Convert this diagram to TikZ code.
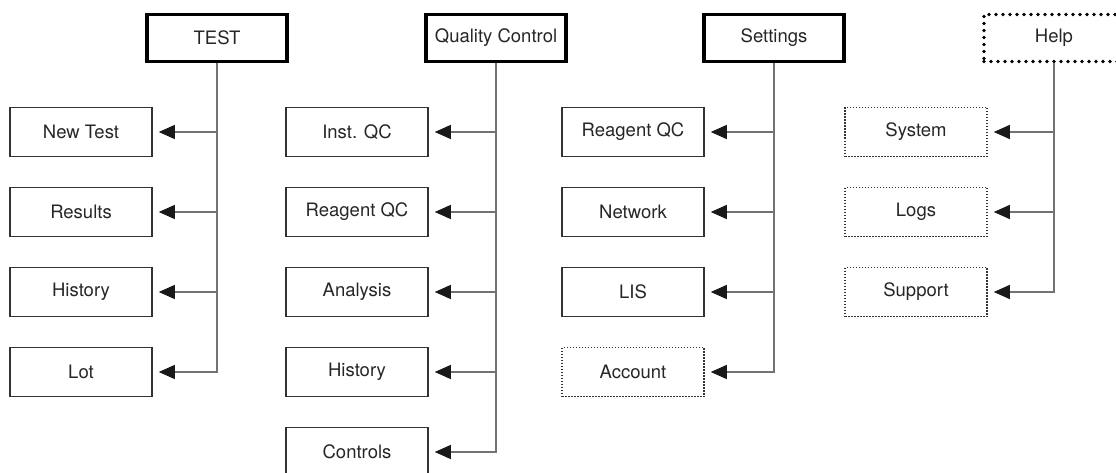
\documentclass[tikz,border=0pt]{standalone}
\usepackage{fontspec}
\setmainfont{TeX Gyre Heros}
\usetikzlibrary{arrows.meta}

\begin{document}
\begin{tikzpicture}[x=1pt, y=-1pt,
	menu/.style={draw=black, line width=3.5pt, minimum width=140pt, minimum height=47pt, inner sep=0pt, text=black!85, font=\fontsize{18.5}{20}\selectfont},
	helpmenu/.style={menu, line width=3.6pt, line cap=round, dash pattern=on 0pt off 7pt},
	item/.style={draw=black!80, line width=1.5pt, minimum width=142pt, minimum height=49pt, inner sep=0pt, text=black!85, font=\fontsize{18.5}{20}\selectfont},
	olditem/.style={item, line width=1.5pt, dash pattern=on 1.5pt off 1.5pt},
	link/.style={draw=black!55, line width=1.2pt, shorten >=6pt, -{Triangle[length=16pt, width=14pt, color=black!90]}}]
	\useasboundingbox (0, 0) rectangle (1116, 473);

	\node[menu] at (217, 38)  (test) {TEST};
	\node[menu] at (496, 38)  (qc) {Quality Control};
	\node[menu] at (774, 38)  (settings) {Settings};
	\node[helpmenu] at (1054, 38)  (help) {Help};

	\node[item] at (81, 132)  (newtest) {New Test};
	\node[item] at (81, 212)  (results) {Results};
	\node[item] at (81, 292)  (history) {History};
	\node[item] at (81, 372)  (lot) {Lot};

	\node[item] at (357, 132)  (instqc) {Inst. QC};
	\node[item] at (357, 212)  (reagentqc) {Reagent QC};
	\node[item] at (357, 292)  (analysis) {Analysis};
	\node[item] at (357, 372)  (qchistory) {History};
	\node[item] at (357, 452)  (controls) {Controls};

	\node[item] at (633, 132)  (setreagent) {Reagent QC};
	\node[item] at (633, 212)  (network) {Network};
	\node[item] at (633, 292)  (lis) {LIS};
	\node[olditem] at (633, 372)  (account) {Account};

	\node[olditem] at (916, 132)  (system) {System};
	\node[olditem] at (916, 212)  (logs) {Logs};
	\node[olditem] at (916, 292)  (support) {Support};

	\draw[link] (test.south) |- (newtest.east);
	\draw[link] (test.south) |- (results.east);
	\draw[link] (test.south) |- (history.east);
	\draw[link] (test.south) |- (lot.east);

	\draw[link] (qc.south) |- (instqc.east);
	\draw[link] (qc.south) |- (reagentqc.east);
	\draw[link] (qc.south) |- (analysis.east);
	\draw[link] (qc.south) |- (qchistory.east);
	\draw[link] (qc.south) |- (controls.east);

	\draw[link] (settings.south) |- (setreagent.east);
	\draw[link] (settings.south) |- (network.east);
	\draw[link] (settings.south) |- (lis.east);
	\draw[link] (settings.south) |- (account.east);

	\draw[link] (help.south) |- (system.east);
	\draw[link] (help.south) |- (logs.east);
	\draw[link] (help.south) |- (support.east);
\end{tikzpicture}
\end{document}
